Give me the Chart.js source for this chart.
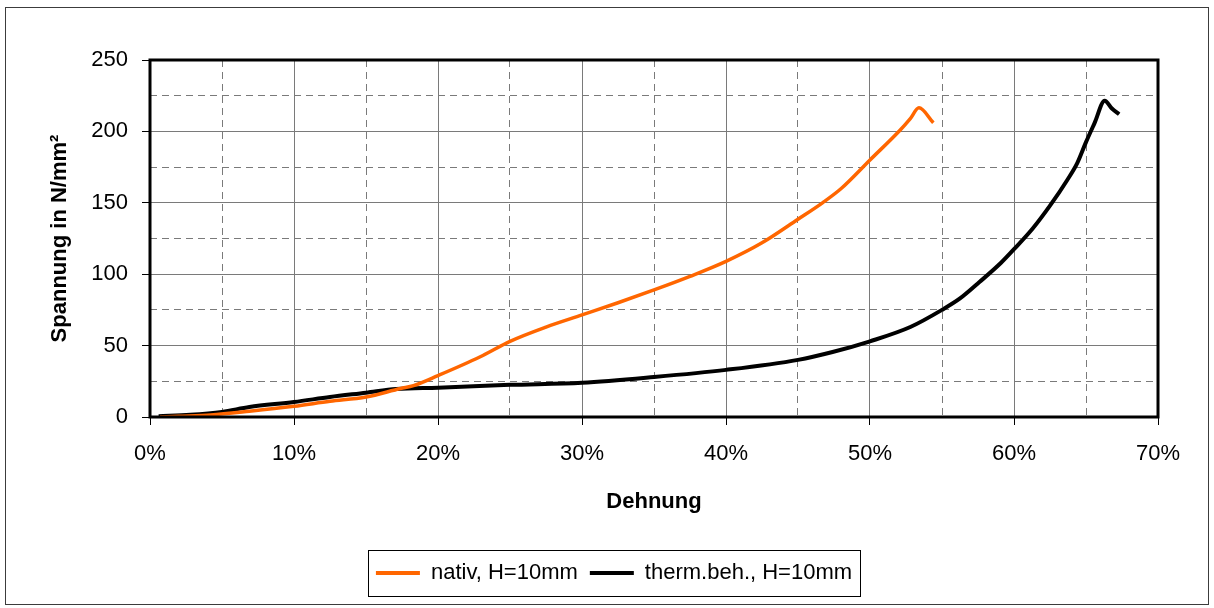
<!DOCTYPE html>
<html>
<head>
<meta charset="utf-8">
<script src="https://cdn.jsdelivr.net/npm/chart.js@4.4.0/dist/chart.umd.min.js"></script>
<style>
  html, body { margin: 0; padding: 0; background: #fff; }
  #wrap { width: 1214px; height: 608px; position: relative; }
</style>
</head>
<body>
<div id="wrap"><canvas id="chart"></canvas></div>
<script>
// Dehnung (Anteil) und Spannung in N/mm²
const dehnungNativ  = [0.007, 0.02, 0.042, 0.069, 0.10, 0.125, 0.15, 0.174, 0.183, 0.20, 0.229, 0.25, 0.275, 0.30, 0.325, 0.35, 0.375, 0.40, 0.425, 0.45, 0.467, 0.48, 0.50, 0.521, 0.528, 0.534, 0.544];
const spannungNativ = [0, 0.5, 1.4, 4, 7.5, 11, 14, 20, 22, 29, 42, 53, 63, 71.5, 80, 89, 98.5, 109, 122, 138.5, 150, 160, 180, 201, 209, 216.5, 206];

const dehnungTherm  = [0.006, 0.028, 0.05, 0.069, 0.10, 0.125, 0.15, 0.171, 0.20, 0.25, 0.30, 0.35, 0.40, 0.45, 0.474, 0.50, 0.528, 0.55, 0.5625, 0.576, 0.591, 0.60, 0.613, 0.625, 0.637, 0.644, 0.65, 0.656, 0.663, 0.668, 0.673];
const spannungTherm = [0.5, 1.5, 3.6, 7, 10.5, 14, 17, 19.6, 20.5, 22.5, 24, 28, 33, 40, 45.5, 53, 63, 75, 83, 94.5, 108, 117.5, 132, 148, 166, 178, 192.5, 206, 221.5, 216, 212];

const seriesLabels = ['nativ, H=10mm', 'therm.beh., H=10mm'];
const seriesColors = ['#ff6600', '#000000'];

const FONT = '"Liberation Sans", Arial, sans-serif';
const toPoints = (xs, ys) => xs.map((x, i) => ({ x, y: ys[i] }));

// dicker Rahmen um die Zeichenfläche, äußerer Rahmen und Legendenkasten
const framePlugin = {
  id: 'frame',
  afterDraw(chart) {
    const { ctx, chartArea: a } = chart;
    ctx.save();
    ctx.strokeStyle = '#000';
    ctx.lineWidth = 3;
    ctx.strokeRect(a.left, a.top, a.right - a.left, a.bottom - a.top);

    ctx.lineWidth = 1;
    ctx.strokeStyle = '#3c3c3c';
    ctx.strokeRect(5.5, 7.5, 1203, 597);

    const boxes = chart.legend.legendHitBoxes;
    if (boxes && boxes.length) {
      const first = boxes[0], last = boxes[boxes.length - 1];
      const left = Math.round(first.left - 8) + 0.5;
      const right = Math.round(last.left + last.width + 8) + 0.5;
      const cy = first.top + first.height / 2;
      ctx.strokeStyle = '#000';
      ctx.strokeRect(left, Math.round(cy - 23) + 0.5, right - left, 46);
    }
    ctx.restore();
  }
};

const isMajorX = v => Math.round(v * 100) % 10 === 0;
const isMajorY = v => Math.round(v) % 50 === 0;

new Chart(document.getElementById('chart'), {
  type: 'line',
  data: {
    datasets: [
      {
        label: seriesLabels[0],
        data: toPoints(dehnungNativ, spannungNativ),
        borderColor: seriesColors[0],
        backgroundColor: seriesColors[0],
        borderWidth: 3.5,
        pointRadius: 0,
        cubicInterpolationMode: 'monotone'
      },
      {
        label: seriesLabels[1],
        data: toPoints(dehnungTherm, spannungTherm),
        borderColor: seriesColors[1],
        backgroundColor: seriesColors[1],
        borderWidth: 4,
        pointRadius: 0,
        cubicInterpolationMode: 'monotone'
      }
    ]
  },
  options: {
    responsive: true,
    maintainAspectRatio: false,
    animation: false,
    layout: { padding: { left: 70, right: 56, top: 60, bottom: 14 } },
    plugins: {
      tooltip: { enabled: false },
      legend: {
        position: 'bottom',
        labels: {
          color: '#000',
          font: { family: FONT, size: 22 },
          boxWidth: 44,
          boxHeight: 4,
          padding: 12,
          generateLabels(chart) {
            return Chart.defaults.plugins.legend.labels.generateLabels(chart)
              .map(item => ({ ...item, lineWidth: 0 }));
          }
        }
      }
    },
    scales: {
      x: {
        type: 'linear',
        min: 0,
        max: 0.7,
        afterFit(scale) { scale.height = 133; },
        ticks: {
          stepSize: 0.05,
          autoSkip: false,
          maxRotation: 0,
          padding: 16,
          color: '#000',
          font: { family: FONT, size: 22 },
          callback: v => isMajorX(v) ? Math.round(v * 100) + '%' : ''
        },
        grid: {
          color: '#7a7a7a',
          lineWidth: 1,
          tickLength: 8,
          tickColor: ctx => isMajorX(ctx.tick.value) ? '#000' : 'rgba(0,0,0,0)'
        },
        border: {
          display: false,
          dash: ctx => isMajorX(ctx.tick.value) ? [] : [7, 5]
        },
        title: {
          display: true,
          text: 'Dehnung',
          color: '#000',
          font: { family: FONT, size: 22, weight: 'bold' },
          padding: { top: 0, bottom: 35 }
        }
      },
      y: {
        min: 0,
        max: 250,
        afterFit(scale) { scale.width = 80; },
        ticks: {
          stepSize: 25,
          autoSkip: false,
          padding: 14,
          color: '#000',
          font: { family: FONT, size: 22 },
          callback: v => isMajorY(v) ? v : ''
        },
        grid: {
          color: '#7a7a7a',
          lineWidth: 1,
          tickLength: 8,
          tickColor: ctx => isMajorY(ctx.tick.value) ? '#000' : 'rgba(0,0,0,0)'
        },
        border: {
          display: false,
          dash: ctx => isMajorY(ctx.tick.value) ? [] : [7, 5]
        },
        title: {
          display: true,
          text: 'Spannung in N/mm²',
          color: '#000',
          font: { family: FONT, size: 22, weight: 'bold' },
          padding: { top: -23, bottom: 0 }
        }
      }
    }
  },
  plugins: [framePlugin]
});
</script>
</body>
</html>
